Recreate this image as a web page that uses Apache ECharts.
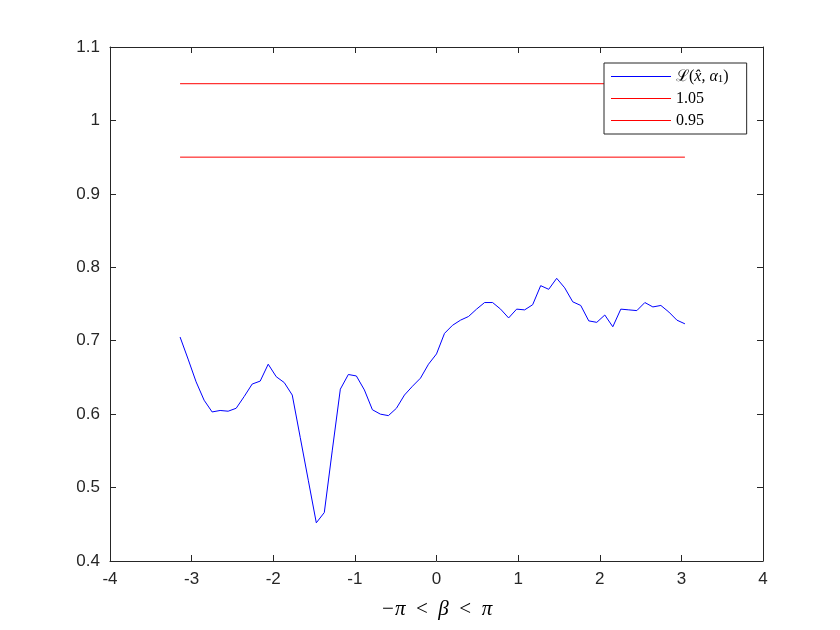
<!DOCTYPE html>
<html>
<head>
<meta charset="utf-8">
<script src="https://cdn.jsdelivr.net/npm/echarts@6/dist/echarts.min.js"></script>
<style>
  html, body { margin: 0; padding: 0; background: #fff; }
  #chart { width: 840px; height: 630px; }
</style>
</head>
<body>
<div id="chart"></div>
<script>
// beta sampled on -pi : 2*pi/64 : pi - step (64 samples)
const betaStart = -Math.PI
const betaStep = 2 * Math.PI / 64

// L(x_hat, alpha_1)
const lossValues = [
  0.705, 0.675, 0.644, 0.619, 0.603, 0.605, 0.604, 0.608,
  0.624, 0.641, 0.645, 0.668, 0.651, 0.643, 0.626, 0.568,
  0.510, 0.452, 0.466, 0.551, 0.634, 0.654, 0.652, 0.633,
  0.606, 0.600, 0.598, 0.608, 0.626, 0.638, 0.649, 0.668,
  0.682, 0.710, 0.721, 0.728, 0.733, 0.743, 0.752, 0.752,
  0.743, 0.731, 0.743, 0.742, 0.749, 0.775, 0.770, 0.785,
  0.772, 0.753, 0.748, 0.727, 0.725, 0.735, 0.719, 0.743,
  0.742, 0.741, 0.752, 0.746, 0.748, 0.739, 0.728, 0.723
]

const upperLevel = 1.05
const lowerLevel = 0.95

const seriesNames = ['\u2112(x\u0302, \u03b1\u2081)', '1.05', '0.95']

const xTicks = [-4, -3, -2, -1, 0, 1, 2, 3, 4]
const yTicks = [0.4, 0.5, 0.6, 0.7, 0.8, 0.9, 1, 1.1]

const betas = lossValues.map((_, i) => betaStart + i * betaStep)
const betaEnd = betas[betas.length - 1]

const chart = echarts.init(document.getElementById('chart'))

const axisColor = '#262626'
const serif = 'Liberation Serif, DejaVu Serif, serif'
const tickFont = { color: axisColor, fontSize: 17, fontFamily: 'Liberation Sans, Arial, sans-serif' }

const xBase = {
  type: 'value',
  min: xTicks[0],
  max: xTicks[xTicks.length - 1],
  interval: 1,
  splitLine: { show: false },
  axisLine: { show: true, onZero: false, lineStyle: { color: axisColor, width: 1 } },
  axisTick: { show: true, inside: true, length: 6, lineStyle: { color: axisColor } }
}
const yBase = {
  type: 'value',
  min: yTicks[0],
  max: yTicks[yTicks.length - 1],
  interval: 0.1,
  splitLine: { show: false },
  axisLine: { show: true, onZero: false, lineStyle: { color: axisColor, width: 1 } },
  axisTick: { show: true, inside: true, length: 6, lineStyle: { color: axisColor } }
}

const option = {
  animation: false,
  backgroundColor: '#fff',
  grid: { left: 110, right: 77, top: 47, bottom: 69, containLabel: false },
  legend: {
    orient: 'vertical',
    left: 604,
    top: 63,
    data: seriesNames,
    icon: 'rect',
    itemWidth: 60,
    itemHeight: 1,
    itemGap: 5,
    padding: [5, 18, 5, 7],
    backgroundColor: '#fff',
    borderColor: axisColor,
    borderWidth: 1,
    borderRadius: 0,
    formatter: name => name === seriesNames[0]
      ? '{n|\u2112(}{i|x\u0302}{n|, }{i|\u03b1}{s|1}{n|)}'
      : '{n|' + name + '}',
    textStyle: {
      color: '#000',
      fontSize: 16,
      lineHeight: 17,
      fontFamily: serif,
      rich: {
        n: { fontSize: 16, lineHeight: 17, fontFamily: serif, color: '#000' },
        i: { fontSize: 16, lineHeight: 17, fontFamily: serif, fontStyle: 'italic', color: '#000' },
        s: { fontSize: 11, lineHeight: 17, fontFamily: serif, color: '#000', verticalAlign: 'bottom', padding: [6, 0, 0, 0] }
      }
    }
  },
  xAxis: [
    Object.assign({}, xBase, {
      position: 'bottom',
      axisLabel: Object.assign({ margin: 10 }, tickFont),
      name: '{i|\u2212\u03c0}{n|  <  }{i|\u03b2}{n|  <  }{i|\u03c0}',
      nameLocation: 'middle',
      nameGap: 38,
      nameTextStyle: {
        rich: {
          i: { fontSize: 21, fontStyle: 'italic', fontFamily: serif, color: '#000' },
          n: { fontSize: 21, fontFamily: serif, color: '#000' }
        }
      }
    }),
    Object.assign({}, xBase, { position: 'top', axisLabel: { show: false } })
  ],
  yAxis: [
    Object.assign({}, yBase, {
      position: 'left',
      axisLabel: Object.assign({ margin: 10 }, tickFont)
    }),
    Object.assign({}, yBase, { position: 'right', axisLabel: { show: false } })
  ],
  series: [
    {
      name: seriesNames[0],
      type: 'line',
      xAxisIndex: 0,
      yAxisIndex: 0,
      data: betas.map((b, i) => [b, lossValues[i]]),
      showSymbol: false,
      symbol: 'none',
      lineStyle: { color: '#0000ff', width: 1 },
      itemStyle: { color: '#0000ff' }
    },
    {
      name: seriesNames[1],
      type: 'line',
      data: [[betaStart, upperLevel], [betaEnd, upperLevel]],
      symbol: 'none',
      lineStyle: { color: '#ff0000', width: 1 },
      itemStyle: { color: '#ff0000' }
    },
    {
      name: seriesNames[2],
      type: 'line',
      data: [[betaStart, lowerLevel], [betaEnd, lowerLevel]],
      symbol: 'none',
      lineStyle: { color: '#ff0000', width: 1 },
      itemStyle: { color: '#ff0000' }
    }
  ]
}

chart.setOption(option)

window.addEventListener('resize', () => chart.resize())
</script>
</body>
</html>
